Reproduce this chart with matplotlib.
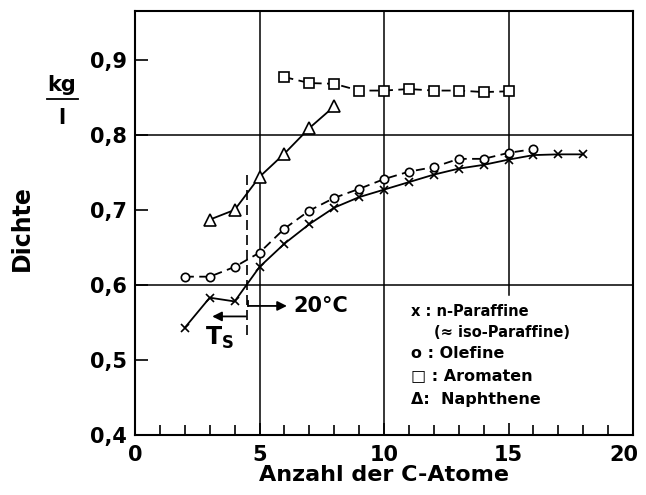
import matplotlib.pyplot as plt
import matplotlib as mpl
import numpy as np

plt.rcParams['font.family'] = ['DejaVu Sans']
plt.rcParams['font.weight'] = 'bold'

# data
c_paraffin = [2, 3, 4, 5, 6, 7, 8, 9, 10, 11, 12, 13, 14, 15, 16, 17, 18]
rho_paraffin = [0.543, 0.583, 0.578, 0.624, 0.655, 0.681, 0.703, 0.717, 0.727,
                0.737, 0.747, 0.755, 0.760, 0.767, 0.773, 0.774, 0.774]

c_olefin = [2, 3, 4, 5, 6, 7, 8, 9, 10, 11, 12, 13, 14, 15, 16]
rho_olefin = [0.611, 0.611, 0.624, 0.643, 0.675, 0.699, 0.716, 0.728, 0.741,
              0.751, 0.757, 0.768, 0.768, 0.776, 0.781]

c_aromat = [6, 7, 8, 9, 10, 11, 12, 13, 14, 15]
rho_aromat = [0.877, 0.869, 0.868, 0.859, 0.859, 0.861, 0.859, 0.859, 0.857, 0.858]

c_naphthen = [3, 4, 5, 6, 7, 8]
rho_naphthen = [0.687, 0.700, 0.744, 0.775, 0.809, 0.838]

xticks = [0, 5, 10, 15, 20]
yticks = [0.4, 0.5, 0.6, 0.7, 0.8, 0.9]
ytick_labels = ['0,4', '0,5', '0,6', '0,7', '0,8', '0,9']

fig = plt.figure(figsize=(6.46, 4.95), dpi=100)
ax = fig.add_axes([0.209, 0.1212, 0.771, 0.857])
ax.set_xlim(0, 20)
ax.set_ylim(0.4, 0.9653)

lw = 1.3
#grid lines (only a few, like the original)
for gx in [5, 10]:
    ax.axvline(gx, color='black', lw=1.1, zorder=1)
ax.axvline(15, ymin=(0.586 - 0.4) / 0.5653, ymax=1, color='black', lw=1.1, zorder=1)
for gy in [0.6, 0.8]:
    ax.axhline(gy, color='black', lw=1.1, zorder=1)

ax.plot(c_paraffin, rho_paraffin, color='black', lw=lw, marker='x', ms=6,
        mew=1.2, zorder=3)
ax.plot(c_olefin, rho_olefin, color='black', lw=lw, ls=(0, (5, 3)), marker='o',
        ms=6, mfc='white', mew=1.2, zorder=4)
ax.plot(c_aromat, rho_aromat, color='black', lw=lw, ls=(0, (5, 3)), marker='s',
        ms=6.5, mfc='white', mew=1.2, zorder=4)
ax.plot(c_naphthen, rho_naphthen, color='black', lw=lw, marker='^', ms=9,
        mfc='white', mew=1.2, zorder=4)

# boiling temperature marker
ax.plot([4.5, 4.5], [0.533, 0.753], color='black', lw=1.2, ls=(0, (6, 3)), zorder=2)
ax.annotate('', xy=(6.1, 0.572), xytext=(4.55, 0.572),
            arrowprops=dict(arrowstyle='-|>', color='black', lw=1.3,
                            mutation_scale=14, shrinkA=0, shrinkB=0))
ax.plot([4.55, 4.55], [0.572, 0.579], color='black', lw=1.3)
ax.annotate('', xy=(3.1, 0.558), xytext=(4.45, 0.558),
            arrowprops=dict(arrowstyle='-|>', color='black', lw=1.3,
                            mutation_scale=14, shrinkA=0, shrinkB=0))
ax.text(6.35, 0.572, '20°C', fontsize=15, fontweight='bold', va='center', ha='left')
ax.text(2.8, 0.529, r'$\mathbf{T_S}$', fontsize=17, va='center', ha='left')

# legend as plain text
leg_fs = 10.5
ax.text(11.1, 0.565, 'x : n-Paraffine', fontsize=leg_fs, va='center')
ax.text(12.0, 0.536, '(≈ iso-Paraffine)', fontsize=leg_fs, va='center')
ax.text(11.1, 0.508, 'o : Olefine', fontsize=leg_fs + 1, va='center')
ax.text(11.1, 0.479, '□ : Aromaten', fontsize=leg_fs + 1, va='center')
ax.text(11.1, 0.447, 'Δ:  Naphthene', fontsize=leg_fs + 1, va='center')

ax.set_xticks(xticks)
ax.set_xticks(np.arange(0, 21, 1), minor=True)
ax.set_xticklabels([str(t) for t in xticks], fontsize=15, fontweight='bold')
ax.set_yticks(yticks)
ax.set_yticklabels(ytick_labels, fontsize=15, fontweight='bold')
ax.tick_params(axis='both', which='major', direction='in', length=9, width=1.2)
ax.tick_params(axis='x', which='minor', direction='in', length=7, width=1.2)
ax.tick_params(axis='y', pad=6)
ax.tick_params(axis='x', pad=7)
for s in ax.spines.values():
    s.set_linewidth(1.5)
# last x label sits a bit left so it stays inside the picture
last = ax.get_xticklabels()[-1]
last.set_transform(last.get_transform() +
                   mpl.transforms.ScaledTranslation(-9 / 100, 0, fig.dpi_scale_trans))

ax.set_xlabel('Anzahl der C-Atome', fontsize=16, fontweight='bold', labelpad=0)
fig.text(0.034, 0.539, 'Dichte', fontsize=17, fontweight='bold', rotation=90,
         ha='center', va='center')
fig.text(0.096, 0.828, 'kg', fontsize=15, fontweight='bold', ha='center', va='center')
fig.add_artist(mpl.lines.Line2D([0.073, 0.12], [0.800, 0.800], color='black', lw=1.3))
fig.text(0.096, 0.762, 'l', fontsize=15, fontweight='bold', ha='center', va='center')

plt.savefig('out.png', dpi=100)
